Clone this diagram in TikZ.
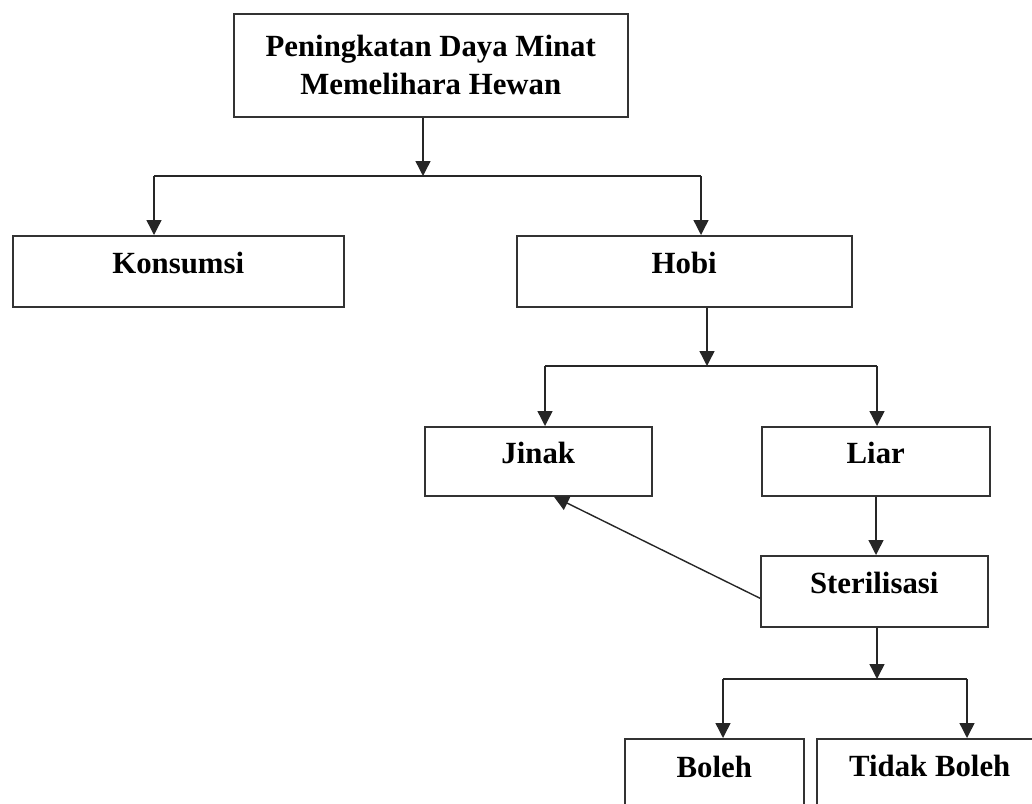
\documentclass[tikz,border=0pt]{standalone}
\usepackage{fontspec}
\setmainfont{Liberation Serif}
\usetikzlibrary{arrows.meta,calc}
\tikzset{
  box/.style={draw=black!80, line width=1.5pt, rectangle, inner sep=0pt, anchor=north west,
    font=\bfseries\fontsize{30.8}{38}\selectfont, text=black},
  arr/.style={draw=black!85, line width=1.4pt, -{Triangle[width=15pt,length=15pt]}},
  ln/.style={draw=black!85, line width=1.4pt}
}
\begin{document}
\begin{tikzpicture}[x=1pt,y=-1pt]
\useasboundingbox (0,0) rectangle (1032,803);
\clip (0,0) rectangle (1032,803);
% boxes
\node[box, minimum width=394pt, minimum height=103pt, align=center] (top) at (233,13) {Peningkatan Daya Minat\\Memelihara Hewan};
\node[box, minimum width=331pt, text height=38pt, text depth=33pt] (kons) at (12,235) {Konsumsi};
\node[box, minimum width=335pt, text height=38pt, text depth=33pt] (hobi) at (516,235) {Hobi};
\node[box, minimum width=227pt, text height=37pt, text depth=32pt] (jinak) at (424,426) {Jinak};
\node[box, minimum width=228pt, text height=37pt, text depth=32pt] (liar) at (761,426) {Liar};
\node[box, minimum width=227pt, text height=38pt, text depth=33pt] (ster) at (760,555) {Sterilisasi};
\node[box, minimum width=179pt, text height=39pt, text depth=40pt] (boleh) at (624,738) {Boleh};
\node[box, minimum width=226pt, text height=38pt, text depth=41pt] (tidak) at (816,738) {Tidak Boleh};
% junctions
\coordinate (j1) at (423,176);
\coordinate (j1l) at (154,176);
\coordinate (j1r) at (701,176);
\coordinate (j2) at (707,366);
\coordinate (j2l) at (545,366);
\coordinate (j2r) at (877,366);
\coordinate (j3) at (877,679);
\coordinate (j3l) at (723,679);
\coordinate (j3r) at (967,679);
\coordinate (j4) at (876,526);
% connectors
\draw[arr] (top.south -| j1) -- (j1);
\draw[ln] (j1l) -- (j1r);
\draw[arr] (j1l) -- (j1l |- kons.north);
\draw[arr] (j1r) -- (j1r |- hobi.north);
\draw[arr] (hobi.south -| j2) -- (j2);
\draw[ln] (j2l) -- (j2r);
\draw[arr] (j2l) -- (j2l |- jinak.north);
\draw[arr] (j2r) -- (j2r |- liar.north);
\draw[arr] (liar.south -| j4) -- (j4 |- ster.north);
\draw[arr] ([yshift=-7pt]ster.west) -- ([xshift=15.5pt]jinak.south);
\draw[arr] (ster.south -| j3) -- (j3);
\draw[ln] (j3l) -- (j3r);
\draw[arr] (j3l) -- (j3l |- boleh.north);
\draw[arr] (j3r) -- (j3r |- tidak.north);
\end{tikzpicture}
\end{document}
